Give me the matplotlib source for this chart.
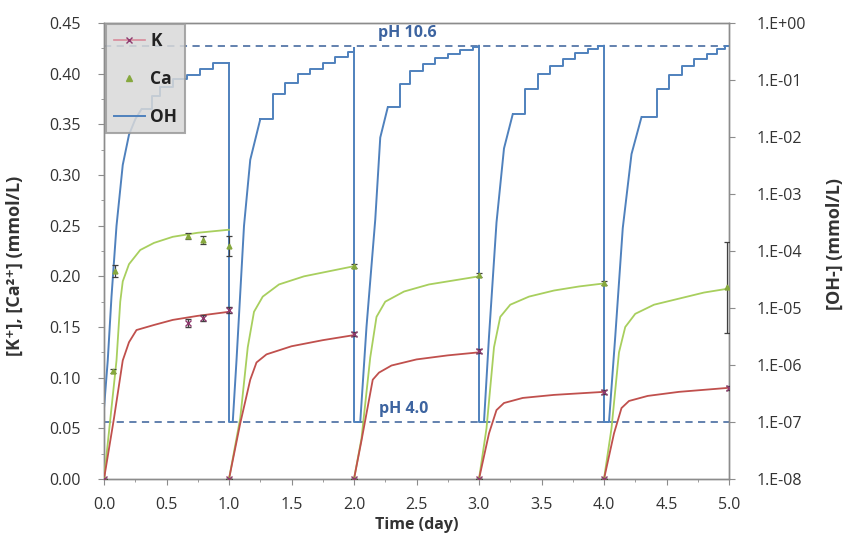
import numpy as np
import matplotlib
matplotlib.use("Agg")
import matplotlib.pyplot as plt
from matplotlib.ticker import MultipleLocator, FixedLocator, FuncFormatter, NullLocator
from matplotlib.lines import Line2D

# ---------------- data ----------------
# model curves, one list per 1-day cycle (time in days, concentration in mmol/L)
k_t = [[0.0, 0.08, 0.15, 0.20, 0.26, 0.40, 0.55, 0.75, 1.00],
       [1.0, 1.09, 1.17, 1.22, 1.30, 1.50, 1.75, 2.00],
       [2.0, 2.06, 2.15, 2.20, 2.30, 2.50, 2.75, 3.00],
       [3.0, 3.08, 3.14, 3.20, 3.35, 3.60, 4.00],
       [4.0, 4.08, 4.14, 4.20, 4.35, 4.60, 5.00]]
k_v = [[0.0, 0.060, 0.117, 0.135, 0.147, 0.152, 0.157, 0.161, 0.165],
       [0.0, 0.055, 0.098, 0.115, 0.123, 0.131, 0.137, 0.142],
       [0.0, 0.038, 0.098, 0.105, 0.112, 0.118, 0.122, 0.125],
       [0.0, 0.045, 0.068, 0.075, 0.080, 0.083, 0.086],
       [0.0, 0.045, 0.070, 0.077, 0.082, 0.086, 0.090]]

ca_t = [[0.0, 0.10, 0.13, 0.15, 0.20, 0.29, 0.40, 0.55, 0.75, 1.00],
        [1.0, 1.09, 1.15, 1.20, 1.27, 1.40, 1.60, 1.80, 2.00],
        [2.0, 2.06, 2.13, 2.18, 2.25, 2.40, 2.60, 2.80, 3.00],
        [3.0, 3.06, 3.12, 3.17, 3.25, 3.40, 3.60, 3.80, 4.00],
        [4.0, 4.06, 4.12, 4.17, 4.25, 4.40, 4.60, 4.80, 5.00]]
ca_v = [[0.0, 0.117, 0.175, 0.195, 0.212, 0.226, 0.233, 0.239, 0.243, 0.246],
        [0.0, 0.060, 0.130, 0.165, 0.180, 0.192, 0.200, 0.205, 0.210],
        [0.0, 0.040, 0.120, 0.160, 0.175, 0.185, 0.192, 0.196, 0.200],
        [0.0, 0.050, 0.130, 0.160, 0.172, 0.180, 0.186, 0.190, 0.193],
        [0.0, 0.050, 0.125, 0.150, 0.163, 0.172, 0.178, 0.184, 0.188]]

# OH- as log10(mmol/L): smooth rising part and stepped plateau of each cycle
oh_rise_t = [[0.0, 0.03, 0.06, 0.10, 0.15, 0.20, 0.25, 0.30],
             [1.0, 1.0, 1.03, 1.06, 1.12, 1.17, 1.25],
             [2.0, 2.0, 2.05, 2.10, 2.17, 2.21, 2.27],
             [3.0, 3.0, 3.04, 3.08, 3.14, 3.20, 3.27],
             [4.0, 4.0, 4.04, 4.09, 4.15, 4.22, 4.30]]
oh_rise_log = [[-6.76, -5.92, -4.80, -3.56, -2.49, -1.96, -1.69, -1.51],
               [-0.71, -7.0, -7.0, -5.92, -3.56, -2.40, -1.69],
               [-0.44, -7.0, -7.0, -5.33, -3.45, -2.01, -1.48],
               [-0.40, -7.0, -7.0, -5.50, -3.50, -2.20, -1.60],
               [-0.40, -7.0, -7.0, -5.50, -3.60, -2.30, -1.65]]
oh_step_t = [[0.30, 0.38, 0.45, 0.55, 0.66, 0.77, 0.87, 0.94, 1.00],
             [1.25, 1.35, 1.45, 1.55, 1.65, 1.75, 1.85, 1.95, 2.00],
             [2.27, 2.37, 2.45, 2.55, 2.65, 2.75, 2.85, 2.95, 3.00],
             [3.27, 3.37, 3.47, 3.57, 3.67, 3.77, 3.87, 3.95, 4.00],
             [4.30, 4.42, 4.52, 4.62, 4.72, 4.82, 4.90, 4.97, 5.00]]
oh_step_log = [[-1.51, -1.28, -1.12, -0.98, -0.91, -0.80, -0.71, -0.71, -0.71],
               [-1.69, -1.24, -1.05, -0.90, -0.80, -0.70, -0.60, -0.50, -0.44],
               [-1.48, -1.07, -0.85, -0.72, -0.62, -0.55, -0.48, -0.42, -0.40],
               [-1.60, -1.15, -0.90, -0.75, -0.63, -0.53, -0.46, -0.41, -0.40],
               [-1.65, -1.15, -0.92, -0.76, -0.64, -0.54, -0.46, -0.41, -0.40]]

# measured points with error bars
k_meas_t = [0.0, 1.0, 2.0, 3.0, 4.0, 0.67, 0.79, 1.0, 2.0, 3.0, 4.0, 5.0]
k_meas_v = [0.0, 0.0, 0.0, 0.0, 0.0, 0.154, 0.159, 0.167, 0.143, 0.126, 0.086, 0.090]
k_meas_e = [0.0, 0.0, 0.0, 0.0, 0.0, 0.004, 0.003, 0.003, 0.002, 0.002, 0.002, 0.002]

ca_meas_t = [0.0, 1.0, 2.0, 3.0, 4.0, 0.07, 0.09, 0.67, 0.79, 1.0, 2.0, 3.0, 4.0, 4.98]
ca_meas_v = [0.0, 0.0, 0.0, 0.0, 0.0, 0.107, 0.205, 0.240, 0.236, 0.230, 0.210, 0.201, 0.193, 0.189]
ca_meas_e = [0.0, 0.0, 0.0, 0.0, 0.0, 0.002, 0.006, 0.003, 0.004, 0.010, 0.002, 0.002, 0.002, 0.045]

ph_levels = [10.6, 4.0]           # reference pH lines
ph_labels = ["pH 10.6", "pH 4.0"]
ph_label_t = [2.19, 2.20]

x_ticks = [0.0, 0.5, 1.0, 1.5, 2.0, 2.5, 3.0, 3.5, 4.0, 4.5, 5.0]
left_ticks = [0.00, 0.05, 0.10, 0.15, 0.20, 0.25, 0.30, 0.35, 0.40, 0.45]
right_ticks = [1e-8, 1e-7, 1e-6, 1e-5, 1e-4, 1e-3, 1e-2, 1e-1, 1e0]

# ---------------- styling ----------------
plt.rcParams['font.family'] = ['Open Sans', 'DejaVu Sans']
K_LINE = '#c0504d'
K_MARK = '#8e3a6e'
CA_LINE = '#a8cf5e'
CA_MARK = '#86a83e'
OH_COL = '#4f81bd'
DASH_COL = '#5677a8'
TXT_COL = '#3d64a0'
SPINE = '#8c8c8c'
TXT = '#333333'

fig = plt.figure(figsize=(8.47, 5.54), dpi=100)
ax = fig.add_axes([104/847, 1-479/554, (729-104)/847, (479-23)/554])
ax2 = ax.twinx()

# right axis (log OH)
for rt, rl, st, sl in zip(oh_rise_t, oh_rise_log, oh_step_t, oh_step_log):
    ax2.plot(rt, [10**v for v in rl], color=OH_COL, lw=1.4, zorder=3)
    ax2.plot(st, [10**v for v in sl], color=OH_COL, lw=1.4, drawstyle='steps-post', zorder=3)
ax2.set_yscale('log')
ax2.set_ylim(1e-8, 1e0)
for ph, lab, xt in zip(ph_levels, ph_labels, ph_label_t):
    conc = 10**(ph - 14) * 1000.0
    ax2.axhline(conc, color=DASH_COL, lw=1.3, ls=(0, (4, 3)), zorder=2)
    ax2.text(xt, conc * 1.22, lab, color=TXT_COL, fontsize=11.5,
             fontweight='bold', ha='left', va='bottom')

# left axis: K and Ca
for tt, vv in zip(ca_t, ca_v):
    ax.plot(tt, vv, color=CA_LINE, lw=1.3, zorder=4)
for tt, vv in zip(k_t, k_v):
    ax.plot(tt, vv, color=K_LINE, lw=1.3, zorder=4)
ax.errorbar(ca_meas_t, ca_meas_v, yerr=ca_meas_e, fmt='^', ms=3.5, color=CA_MARK,
            ecolor='#404040', elinewidth=0.9, capsize=2.5, capthick=0.9, zorder=5)
ax.errorbar(k_meas_t, k_meas_v, yerr=k_meas_e, fmt='x', ms=4, mew=1.0, color=K_MARK,
            ecolor='#404040', elinewidth=0.9, capsize=2.5, capthick=0.9, zorder=5)

ax.set_zorder(ax2.get_zorder() + 1)
ax.patch.set_visible(False)

ax.set_xlim(0, 5.0)
ax.set_ylim(0, 0.45)
ax.xaxis.set_major_locator(FixedLocator(x_ticks))
ax.xaxis.set_minor_locator(MultipleLocator(0.25))
ax.yaxis.set_major_locator(FixedLocator(left_ticks))
ax.yaxis.set_minor_locator(MultipleLocator(0.025))
ax.xaxis.set_major_formatter(FuncFormatter(lambda v, p: f"{v:.1f}"))
ax.yaxis.set_major_formatter(FuncFormatter(lambda v, p: f"{v:.2f}"))
ax2.yaxis.set_major_locator(FixedLocator(right_ticks))
ax2.yaxis.set_minor_locator(NullLocator())
ax2.yaxis.set_major_formatter(FuncFormatter(lambda v, p: "1.E%+03d" % int(round(np.log10(v)))))

for a in (ax, ax2):
    for s in a.spines.values():
        s.set_color(SPINE)
        s.set_linewidth(1.0)
ax.tick_params(axis='x', which='major', labelsize=11.5, colors=TXT, color=SPINE,
               length=4, direction='out', pad=9)
ax.tick_params(axis='y', which='major', labelsize=11.5, colors=TXT, color=SPINE,
               length=4, direction='out', pad=13)
ax.tick_params(axis='both', which='minor', color=SPINE, length=2.5, direction='out')
ax2.tick_params(axis='y', which='major', labelsize=11.5, colors=TXT, color=SPINE,
                length=4, direction='out', pad=16)

ax.set_xlabel("Time (day)", fontsize=11.5, fontweight='bold', color=TXT, labelpad=3)
ax.set_ylabel("[K\u207a], [Ca\u00b2\u207a] (mmol/L)", fontsize=13, fontweight='bold',
              color=TXT)
ax2.set_ylabel("[OH-] (mmol/L)", fontsize=13, fontweight='bold', color=TXT)
ax.yaxis.set_label_coords((24 - 104) / 625, 0.467)
ax2.yaxis.set_label_coords((826 - 104) / 625, 0.515)

# legend
handles = [Line2D([], [], color='#d98a9a', marker='x', ms=5, lw=1.2, mec=K_MARK),
           Line2D([], [], color='none', marker='^', ms=4, mfc=CA_MARK, mec=CA_MARK),
           Line2D([], [], color=OH_COL, lw=1.4)]
leg = ax.legend(handles, ['K', 'Ca', 'OH'], loc='upper left', bbox_to_anchor=(0.003, 0.998),
                frameon=True, fancybox=False, handlelength=1.8,
                handletextpad=0.3, borderpad=0.45, labelspacing=1.15, borderaxespad=0.0,
                prop={'weight': 'bold', 'size': 12.5})
leg.get_frame().set_facecolor('#d9d9d9')
leg.get_frame().set_edgecolor('#9a9a9a')
leg.get_frame().set_linewidth(1.5)
leg.get_frame().set_alpha(0.85)
for txt in leg.get_texts():
    txt.set_color('#222222')

fig.savefig("out.png", dpi=100)
